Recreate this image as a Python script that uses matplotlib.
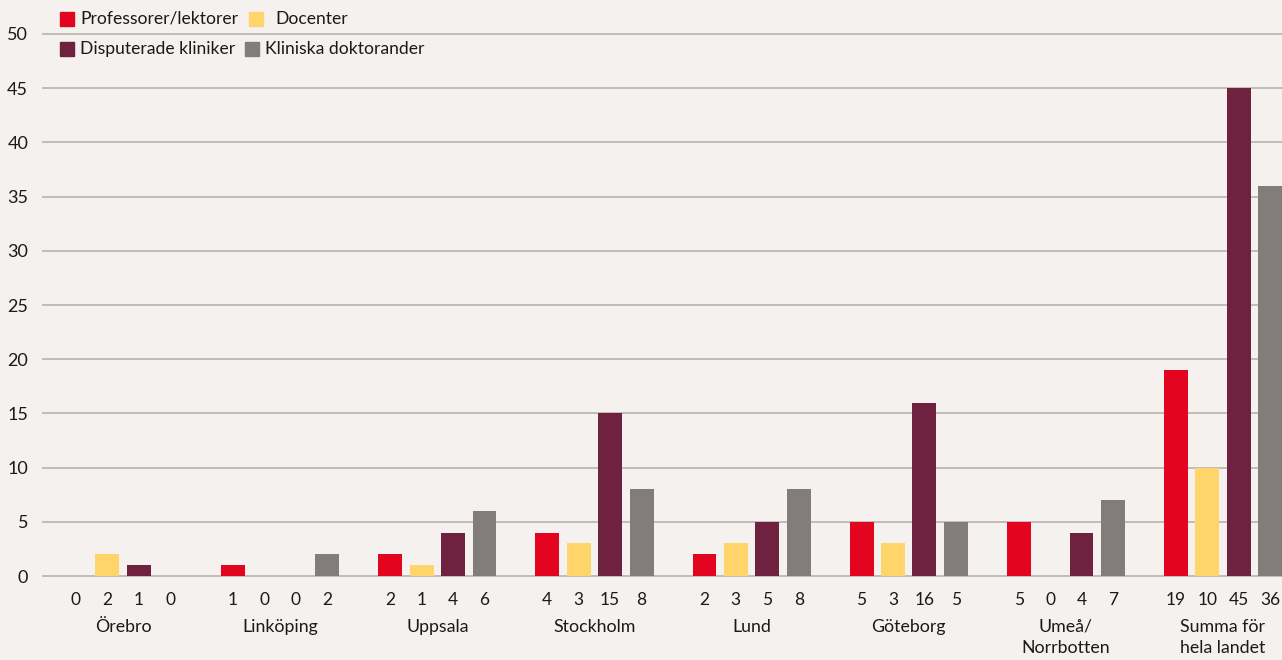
import matplotlib
matplotlib.use("Agg")
import matplotlib.pyplot as plt
from matplotlib.patches import Rectangle
from matplotlib.transforms import blended_transform_factory

plt.rcParams['font.family'] = ['Lato', 'DejaVu Sans']

# Data
regions = ["Örebro", "Linköping", "Uppsala", "Stockholm", "Lund",
           "Göteborg", "Umeå/\nNorrbotten", "Summa för\nhela landet"]
series_names = ["Professorer/lektorer", "Docenter",
                "Disputerade kliniker", "Kliniska doktorander"]
professorer = [0, 1, 2, 4, 2, 5, 5, 19]
docenter = [2, 0, 1, 3, 3, 3, 0, 10]
disputerade = [1, 0, 4, 15, 5, 16, 4, 45]
doktorander = [0, 2, 6, 8, 8, 5, 7, 36]
y_ticks = [0, 5, 10, 15, 20, 25, 30, 35, 40, 45, 50]

colors = ["#E30420", "#FFD46A", "#6E2240", "#827D7A"]
bg = "#F5F1EF"
grid_c = "#BDB7B6"
text_c = "#1A1A1A"

series = [professorer, docenter, disputerade, doktorander]

fig = plt.figure(figsize=(12.82, 6.60), dpi=100, facecolor=bg)
ax = fig.add_axes([0.0328, 0.1256, 0.9672, 0.8262])
ax.set_facecolor(bg)

group_step = 5
bar_w = 0.76
tick_pos, tick_lab = [], []
for i, vals in enumerate(series):
    xs = [g * group_step + i for g in range(len(regions))]
    ax.bar(xs, vals, width=bar_w, color=colors[i], zorder=3)
    for x, v in zip(xs, vals):
        tick_pos.append(x)
        tick_lab.append(str(v))

order = sorted(range(len(tick_pos)), key=lambda k: tick_pos[k])
ax.set_xticks([tick_pos[k] for k in order])
ax.set_xticklabels([tick_lab[k] for k in order], fontsize=12.5, color=text_c)
ax.tick_params(axis='x', length=0, pad=11)

ax.set_xlim(-1.08, 38.38)
ax.set_ylim(-0.1, 50.2)
ax.set_yticks(y_ticks)
ax.set_yticklabels([str(t) for t in y_ticks], fontsize=13, color=text_c)
ax.tick_params(axis='y', length=0, pad=10)
ax.grid(axis='y', color=grid_c, linewidth=1.3, zorder=0)
for s in ax.spines.values():
    s.set_visible(False)

# Region names under each group of value labels
trans = blended_transform_factory(ax.transData, ax.transAxes)
for g, name in enumerate(regions):
    ax.text(g * group_step + 1.5, -0.076, name, transform=trans,
            ha='center', va='top', fontsize=12.8, color=text_c,
            linespacing=1.45)

# Legend in two rows
legend_items = [
    (60, 19, series_names[0], colors[0], 80),
    (249, 19, series_names[1], colors[1], 275),
    (60, 49, series_names[2], colors[2], 80),
    (245, 49, series_names[3], colors[3], 265),
]
W, H = 1282, 660
sq = 14
for (px, py, label, c, tx) in legend_items:
    fig.patches.append(Rectangle((px / W, (H - py - sq / 2) / H), sq / W, sq / H,
                                 transform=fig.transFigure, color=c))
    fig.text(tx / W, (H - py) / H, label, ha='left', va='center',
             fontsize=12.6, color=text_c)

fig.savefig("out.png", dpi=100, facecolor=bg)
